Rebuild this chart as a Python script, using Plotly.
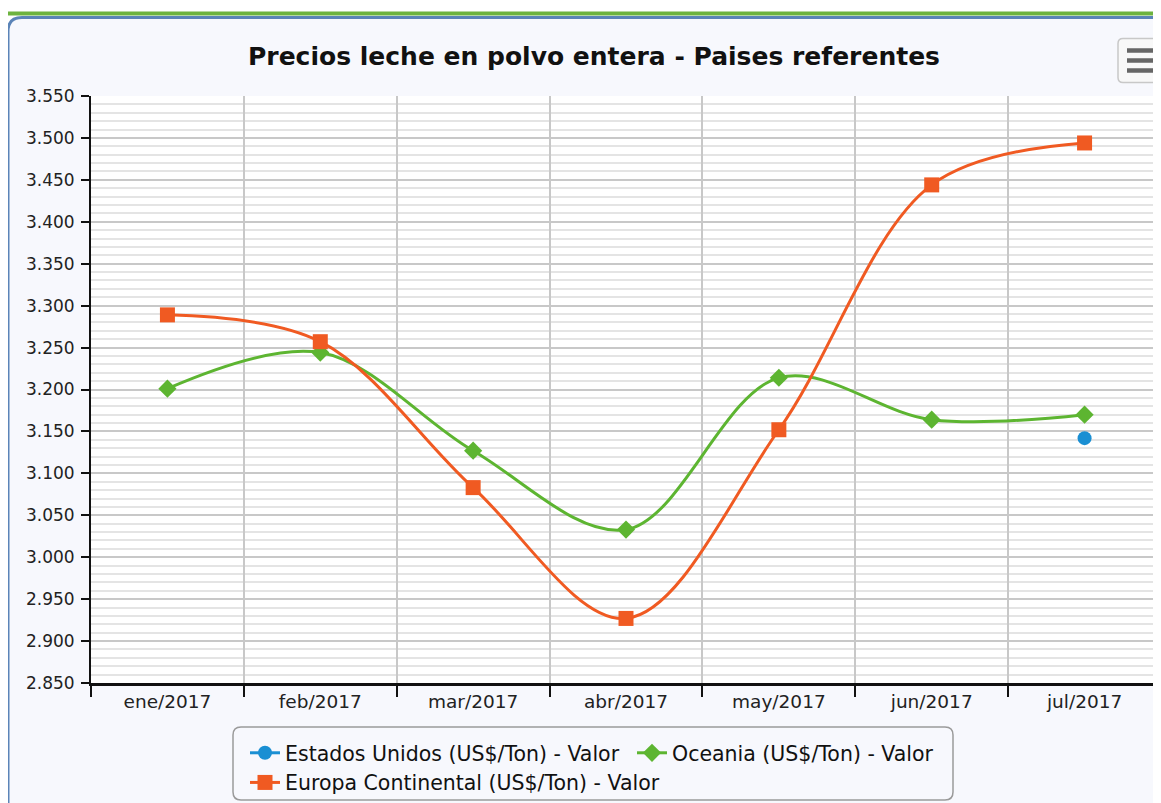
import plotly.graph_objects as go

# ---------------- data ----------------
months = ["ene/2017", "feb/2017", "mar/2017", "abr/2017", "may/2017", "jun/2017", "jul/2017"]
estados_unidos = [None, None, None, None, None, None, 3142]
oceania = [3201, 3244, 3127, 3033, 3214, 3164, 3170]
europa = [3289, 3257, 3083, 2927, 3152, 3444, 3494]

series_names = [
    "Estados Unidos (US$/Ton) - Valor",
    "Oceania (US$/Ton) - Valor",
    "Europa Continental (US$/Ton) - Valor",
]
title_text = "Precios leche en polvo entera - Paises referentes"

# ---------------- layout helpers (page pixel -> paper) ----------------
OFF = 8                      # default body margin of the html page
PAGE_W, PAGE_H = 1161, 803
W, H = PAGE_W - OFF, PAGE_H - OFF
PLOT_L, PLOT_T, PLOT_B = 91, 95.5, 683     # page coordinates of plot area
L = PLOT_L - OFF
T = PLOT_T - OFF
B = H - (PLOT_B - OFF)
R = 0
PW = W - L - R
PH = H - T - B


def px(x):
    return (x - OFF - L) / PW


def py(y):
    return (H - B - (y - OFF)) / PH


def rounded_rect(x0, y0, x1, y1, r):
    rx = r / PW
    ry = r / PH
    X0, X1 = px(x0), px(x1)
    Y0, Y1 = py(y0), py(y1)
    return (
        f"M {X0 + rx},{Y0} L {X1 - rx},{Y0} Q {X1},{Y0} {X1},{Y0 - ry} "
        f"L {X1},{Y1 + ry} Q {X1},{Y1} {X1 - rx},{Y1} "
        f"L {X0 + rx},{Y1} Q {X0},{Y1} {X0},{Y1 + ry} "
        f"L {X0},{Y0 - ry} Q {X0},{Y0} {X0 + rx},{Y0} Z"
    )


FONT = "DejaVu Sans"
BG = "#f7f8fd"
C_US = "#1a8fd3"
C_OC = "#5db531"
C_EU = "#f05a22"

fig = go.Figure()

fig.add_trace(go.Scatter(
    x=months, y=estados_unidos, name=series_names[0], mode="lines+markers",
    line=dict(color=C_US, width=3, shape="spline", smoothing=1.0),
    marker=dict(symbol="circle", size=14, color=C_US),
))
fig.add_trace(go.Scatter(
    x=months, y=oceania, name=series_names[1], mode="lines+markers",
    line=dict(color=C_OC, width=3, shape="spline", smoothing=1.0),
    marker=dict(symbol="diamond", size=14, color=C_OC),
))
fig.add_trace(go.Scatter(
    x=months, y=europa, name=series_names[2], mode="lines+markers",
    line=dict(color=C_EU, width=3, shape="spline", smoothing=1.0),
    marker=dict(symbol="square", size=15, color=C_EU),
))

shapes = [
    dict(type="path", xref="paper", yref="paper", layer="below",
         path=rounded_rect(8, 17, PAGE_W + 40, PAGE_H + 40, 14),
         fillcolor=BG, line=dict(color="#5b84b8", width=3)),
    dict(type="line", xref="paper", yref="paper", layer="below",
         x0=px(7), x1=px(1157), y0=py(13), y1=py(13),
         line=dict(color="#6db33f", width=4)),
    dict(type="rect", xref="paper", yref="paper", layer="below",
         x0=0, x1=1, y0=0, y1=1, fillcolor="white", line=dict(width=0)),
    dict(type="path", xref="paper", yref="paper", layer="below",
         path=rounded_rect(233, 727, 953, 800, 8),
         fillcolor=BG, line=dict(color="#9a9a9a", width=1.5)),
    dict(type="path", xref="paper", yref="paper", layer="above",
         path=rounded_rect(1118, 38, 1175, 82, 5),
         fillcolor="#f8f8f8", line=dict(color="#c8c8c8", width=1.5)),
]
for yy in (50, 60, 70):
    shapes.append(dict(type="line", xref="paper", yref="paper", layer="above",
                       x0=px(1127), x1=px(1175), y0=py(yy), y1=py(yy),
                       line=dict(color="#666666", width=4.5)))

fig.update_layout(
    width=W, height=H,
    margin=dict(l=L, r=R, t=T, b=B, autoexpand=False),
    paper_bgcolor="white",
    plot_bgcolor="white",
    separators=",.",
    font=dict(family=FONT, size=16, color="#222222"),
    title=dict(text="<b>" + title_text + "</b>", x=(594 - OFF) / W, xref="container",
               xanchor="center", y=1 - (56 - OFF) / H, yref="container", yanchor="middle",
               font=dict(family=FONT, size=25, color="#111111")),
    showlegend=True,
    legend=dict(orientation="h", x=px(245), xanchor="left", y=py(733), yanchor="top",
                bgcolor="rgba(0,0,0,0)", borderwidth=0,
                entrywidth=342, entrywidthmode="pixels",
                font=dict(family=FONT, size=20.5, color="#111111"),
                traceorder="normal"),
    shapes=shapes,
    hovermode="closest",
)

fig.update_xaxes(
    type="category", range=[-0.5, 6.5], tickson="boundaries",
    showgrid=True, gridcolor="#c8c8c8", gridwidth=1.5,
    showline=True, linecolor="#111111", linewidth=2.5,
    ticks="outside", ticklen=11, tickwidth=2, tickcolor="#111111",
    tickfont=dict(family=FONT, size=18.5, color="#222222"),
    zeroline=False, fixedrange=True,
)
fig.update_yaxes(
    range=[2850, 3550], dtick=50, tick0=2850, tickformat=",d",
    showgrid=True, gridcolor="#c8c8c8", gridwidth=1.5,
    minor=dict(dtick=10, tick0=2850, showgrid=True, gridcolor="#e4e4e4", gridwidth=1.5),
    showline=True, linecolor="#111111", linewidth=2,
    ticks="outside", ticklen=8, tickwidth=2, tickcolor="#111111",
    ticklabelstandoff=3,
    tickfont=dict(family=FONT, size=17, color="#222222"),
    zeroline=False, fixedrange=True,
)

fig.write_html("out.html", config={"displayModeBar": False})
